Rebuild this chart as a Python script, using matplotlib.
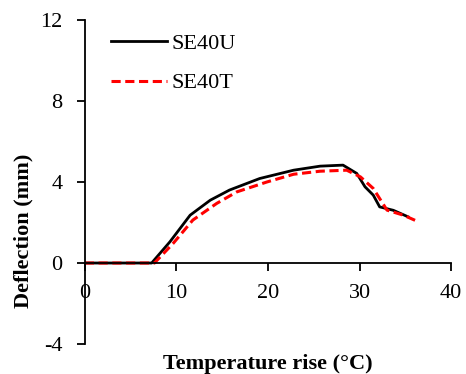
import matplotlib
matplotlib.use("Agg")
import matplotlib.pyplot as plt

u_x = [0, 7.3, 9.3, 11.5, 13.7, 15.8, 19.1, 22.8, 25.7, 28.2, 29.7, 30.6, 31.5, 32.2, 33.7, 35.3]
u_y = [0, 0, 1.05, 2.36, 3.1, 3.6, 4.17, 4.58, 4.78, 4.83, 4.42, 3.76, 3.35, 2.77, 2.6, 2.28]
t_x = [0, 7.6, 9.65, 11.8, 14.4, 16.6, 19.9, 22.8, 25.7, 28.6, 30.1, 31.5, 33.0, 34.8, 36.2]
t_y = [0, 0, 0.97, 2.12, 2.94, 3.51, 4.0, 4.38, 4.53, 4.58, 4.25, 3.68, 2.61, 2.36, 2.08]
x_ticks = [0, 10, 20, 30, 40]
y_ticks = [-4, 0, 4, 8, 12]

plt.rcParams['font.family'] = ['Liberation Serif', 'DejaVu Serif']
plt.rcParams['axes.unicode_minus'] = False
fig = plt.figure(figsize=(4.66, 3.74), dpi=100)
ax = fig.add_axes([0.182, 0.080, 0.786, 0.867])
ax.plot(u_x, u_y, color='black', lw=2.0, label='SE40U')
ax.plot(t_x, t_y, color='red', lw=2.2, ls=(0, (3, 1.5)), label='SE40T')
ax.set_xlim(0, 40)
ax.set_ylim(-4, 12)
ax.set_xticks(x_ticks)
ax.set_yticks(y_ticks)
ax.spines['top'].set_visible(False)
ax.spines['right'].set_visible(False)
ax.spines['bottom'].set_position(('data', 0))
for s in ['left', 'bottom']:
    ax.spines[s].set_linewidth(1.3)
ax.tick_params(axis='x', direction='out', length=6, width=1.3, pad=9, labelsize=16)
ax.tick_params(axis='y', direction='out', length=6, width=1.3, pad=10, labelsize=16)
ax.set_xlabel('Temperature rise (°C)', fontsize=16, fontweight='bold')
ax.xaxis.set_label_coords(0.5, -0.032)
ax.xaxis.label.set_va('top')
ax.set_ylabel('Deflection (mm)', fontsize=16, fontweight='bold')
ax.yaxis.set_label_coords(-0.14, 0.35)
leg = ax.legend(loc='upper left', bbox_to_anchor=(0.018, 1.02), frameon=False,
                fontsize=16, handlelength=2.5, handletextpad=0.2, labelspacing=0.85)
fig.savefig('out.png', dpi=100)
